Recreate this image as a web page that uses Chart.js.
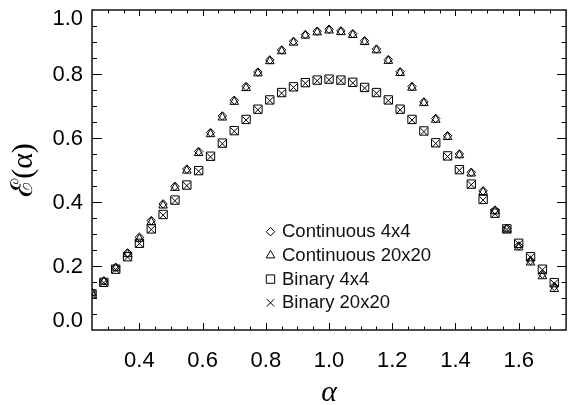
<!DOCTYPE html>
<html>
<head>
<meta charset="utf-8">
<script src="https://cdn.jsdelivr.net/npm/chart.js@4/dist/chart.umd.min.js"></script>
<style>
  html, body { margin: 0; padding: 0; background: #fff; }
  #wrap { width: 573px; height: 405px; }
</style>
</head>
<body>
<div id="wrap"><canvas id="chart" width="573" height="405"></canvas></div>
<script>
const alphaValues = [
  0.25, 0.2875, 0.325, 0.3625, 0.4, 0.4375, 0.475, 0.5125, 0.55, 0.5875,
  0.625, 0.6625, 0.7, 0.7375, 0.775, 0.8125, 0.85, 0.8875, 0.925, 0.9625,
  1.0, 1.0375, 1.075, 1.1125, 1.15, 1.1875, 1.225, 1.2625, 1.3, 1.3375,
  1.375, 1.4125, 1.45, 1.4875, 1.525, 1.5625, 1.6, 1.6375, 1.675, 1.7125
];

const continuous4 = [
  0.117, 0.153, 0.196, 0.241, 0.290, 0.342, 0.394, 0.449, 0.503, 0.558,
  0.617, 0.669, 0.718, 0.761, 0.806, 0.844, 0.875, 0.902, 0.923, 0.934,
  0.940, 0.935, 0.926, 0.904, 0.878, 0.845, 0.807, 0.761, 0.713, 0.661,
  0.607, 0.550, 0.493, 0.435, 0.375, 0.318, 0.263, 0.217, 0.175, 0.136
];

const continuous20 = [
  0.115, 0.151, 0.193, 0.237, 0.285, 0.337, 0.389, 0.444, 0.498, 0.553,
  0.612, 0.664, 0.713, 0.756, 0.802, 0.840, 0.871, 0.898, 0.920, 0.930,
  0.936, 0.931, 0.922, 0.900, 0.874, 0.841, 0.803, 0.757, 0.709, 0.657,
  0.603, 0.546, 0.489, 0.431, 0.371, 0.314, 0.258, 0.211, 0.168, 0.128
];

const binary4 = [
  0.113, 0.149, 0.190, 0.229, 0.271, 0.316, 0.361, 0.406, 0.453, 0.498,
  0.543, 0.584, 0.623, 0.658, 0.690, 0.719, 0.742, 0.760, 0.773, 0.781,
  0.784, 0.781, 0.774, 0.758, 0.742, 0.719, 0.690, 0.658, 0.622, 0.585,
  0.544, 0.501, 0.456, 0.408, 0.365, 0.316, 0.271, 0.229, 0.190, 0.148
];

const binary20 = [
  0.112, 0.148, 0.189, 0.228, 0.270, 0.314, 0.359, 0.404, 0.451, 0.496,
  0.541, 0.582, 0.621, 0.656, 0.688, 0.717, 0.740, 0.758, 0.771, 0.779,
  0.782, 0.779, 0.772, 0.756, 0.740, 0.717, 0.688, 0.656, 0.620, 0.583,
  0.542, 0.499, 0.454, 0.406, 0.363, 0.314, 0.269, 0.227, 0.188, 0.146
];

const seriesNames = ['Continuous 4x4', 'Continuous 20x20', 'Binary 4x4', 'Binary 20x20'];
const xTickLabels = [0.4, 0.6, 0.8, 1.0, 1.2, 1.4, 1.6];
const yTickLabels = [0.0, 0.2, 0.4, 0.6, 0.8, 1.0];

const markers = [
  { pointStyle: 'rectRot', radius: 4.2 },
  { pointStyle: 'triangle', radius: 5 },
  { pointStyle: 'rect', radius: 5.9 },
  { pointStyle: 'crossRot', radius: 5.2 },
];

const sansFont = '"Liberation Sans", Arial, sans-serif';
const serifFont = '"Liberation Serif", "DejaVu Serif", serif';

function toPoints(ys) {
  return alphaValues.map((a, i) => ({ x: a, y: ys[i] }));
}

const seriesValues = [continuous4, continuous20, binary4, binary20];

const datasets = seriesValues.map((ys, i) => ({
  label: seriesNames[i],
  data: toPoints(ys),
  pointStyle: markers[i].pointStyle,
  pointRadius: markers[i].radius,
  pointHoverRadius: markers[i].radius,
  pointBorderColor: '#000',
  pointBackgroundColor: 'rgba(0,0,0,0)',
  pointBorderWidth: 1,
  showLine: false,
  clip: 0,
}));

function drawMarker(ctx, m, x, y) {
  ctx.save();
  ctx.strokeStyle = '#000';
  ctx.fillStyle = 'rgba(0,0,0,0)';
  ctx.lineWidth = 1;
  Chart.helpers.drawPoint(ctx, { pointStyle: m.pointStyle, radius: m.radius, rotation: 0, borderWidth: 1 }, x, y);
  ctx.restore();
}

// frame, inward ticks, y labels and the legend inside the plot
const framePlugin = {
  id: 'frame',
  afterDraw(chart) {
    const { ctx, chartArea: a, scales } = chart;
    const xs = scales.x, ys = scales.y;
    ctx.save();
    ctx.strokeStyle = '#000';
    ctx.lineWidth = 1.4;
    ctx.strokeRect(a.left, a.top, a.right - a.left, a.bottom - a.top);

    ctx.lineWidth = 1;
    ctx.beginPath();
    for (let i = 1; i < 30; i++) {
      const v = 0.25 + i * 0.05;
      const px = Math.round(xs.getPixelForValue(v)) + 0.5;
      const major = Math.abs(v / 0.2 - Math.round(v / 0.2)) < 1e-6;
      ctx.moveTo(px, a.bottom); ctx.lineTo(px, a.bottom - (major ? 7 : 3.5));
      ctx.moveTo(px, a.top); ctx.lineTo(px, a.top + (major ? 6 : 3.5));
    }
    for (let i = 1; i < 20; i++) {
      const v = i * 0.05;
      const py = Math.round(ys.getPixelForValue(v)) + 0.5;
      const major = i % 4 === 0;
      ctx.moveTo(a.left, py); ctx.lineTo(a.left + (major ? 10 : 5), py);
      ctx.moveTo(a.right, py); ctx.lineTo(a.right - (major ? 9 : 4.5), py);
    }
    ctx.stroke();

    ctx.fillStyle = '#000';
    ctx.font = '22px ' + sansFont;
    ctx.textAlign = 'right';
    ctx.textBaseline = 'middle';
    yTickLabels.forEach((v) => {
      let nudge = 1.3;
      if (v === 1) nudge = 8.5;
      if (v === 0) nudge = -9;
      ctx.fillText(v.toFixed(1), a.left - 9, ys.getPixelForValue(v) + nudge);
    });

    ctx.font = '18.5px ' + sansFont;
    ctx.textAlign = 'left';
    ctx.fillStyle = '#111';
    seriesNames.forEach((name, i) => {
      const rowY = 231.7 + i * 23.7;
      drawMarker(ctx, markers[i], 270.5, rowY);
      ctx.fillText(name, 282, rowY + 0.5);
    });
    ctx.restore();
  },
};

new Chart(document.getElementById('chart'), {
  type: 'scatter',
  data: { datasets },
  options: {
    responsive: false,
    animation: false,
    devicePixelRatio: 1,
    layout: { padding: { top: 10, right: 1, left: 0, bottom: 0 } },
    plugins: { legend: { display: false }, tooltip: { enabled: false } },
    scales: {
      x: {
        type: 'linear',
        min: 0.25,
        max: 1.75,
        afterBuildTicks: (s) => { s.ticks = xTickLabels.map((v) => ({ value: v })); },
        afterFit: (s) => { s.height = 75; },
        grid: { display: false, drawTicks: false },
        border: { display: false },
        ticks: {
          autoSkip: false,
          maxRotation: 0,
          padding: 18,
          color: '#000',
          font: { family: sansFont, size: 22 },
          callback: (v) => Number(v).toFixed(1),
        },
        title: {
          display: true,
          text: 'α',
          color: '#000',
          padding: 0,
          font: { family: serifFont, style: 'italic', size: 30, lineHeight: 0.8 },
        },
      },
      y: {
        type: 'linear',
        min: 0,
        max: 1,
        afterBuildTicks: (s) => { s.ticks = yTickLabels.map((v) => ({ value: v })); },
        afterFit: (s) => { s.width = 92; },
        grid: { display: false, drawTicks: false },
        border: { display: false },
        ticks: { display: false },
        title: {
          display: true,
          text: 'ℰ(α)',
          color: '#000',
          padding: { top: 9, bottom: 0 },
          font: { family: serifFont, size: 30, lineHeight: 1 },
        },
      },
    },
  },
  plugins: [framePlugin],
});
</script>
</body>
</html>
